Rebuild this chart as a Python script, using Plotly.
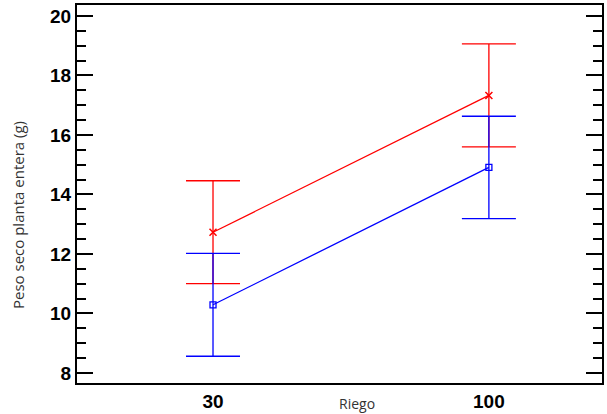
import plotly.graph_objects as go

categories = ["30", "100"]
x_pos = [0, 1]
red_mean = [12.73, 17.33]
red_err = [1.73, 1.73]
blue_mean = [10.29, 14.91]
blue_err = [1.73, 1.72]

W, H = 607, 414
l, r, t, b = 77, 5, 5, 31
pw, ph = W - l - r, H - t - b

fig = go.Figure()
fig.add_trace(go.Scatter(
    x=x_pos, y=red_mean, mode="lines+markers",
    line=dict(color="#ff0000", width=1.3),
    marker=dict(symbol="x-thin", size=7, color="#ff0000", line=dict(color="#ff0000", width=1.5)),
    error_y=dict(type="data", array=red_err, color="#ff0000", thickness=1.3, width=27),
    showlegend=False))
fig.add_trace(go.Scatter(
    x=x_pos, y=blue_mean, mode="lines+markers",
    line=dict(color="#0000ff", width=1.3),
    marker=dict(symbol="square-open", size=6, color="#0000ff", line=dict(width=1.3)),
    error_y=dict(type="data", array=blue_err, color="#0000ff", thickness=1.3, width=27),
    showlegend=False))

fig.update_layout(
    template="none",
    width=W, height=H,
    margin=dict(l=l, r=r, t=t, b=b, pad=0),
    plot_bgcolor="white", paper_bgcolor="white",
    font=dict(family="Liberation Sans, Arial", color="black"),
    xaxis=dict(range=[-0.493, 1.41], tickvals=x_pos, ticktext=categories,
               ticks="", showgrid=False, zeroline=False, automargin=False,
               showline=True, linecolor="black", linewidth=2, mirror=True,
               tickfont=dict(size=19, family="Liberation Sans", weight="bold")),
    yaxis=dict(range=[7.66, 20.37], tickvals=[8, 10, 12, 14, 16, 18, 20],
               ticks="inside", ticklen=16, tickwidth=2, tickcolor="black",
               minor=dict(dtick=0.5, ticks="inside", ticklen=9, tickwidth=2, tickcolor="black"),
               showgrid=False, zeroline=False, automargin=False,
               showline=True, linecolor="black", linewidth=2, mirror="allticks",
               tickfont=dict(size=19, family="Liberation Sans", weight="bold")),
    annotations=[
        dict(text="Peso seco planta entera (g)", xref="paper", yref="paper",
             x=(18 - l) / pw, y=(H - b - 215) / ph, xanchor="center", yanchor="middle",
             showarrow=False, textangle=-90, font=dict(size=15, family="Open Sans", color="#333")),
        dict(text="Riego", xref="paper", yref="paper",
             x=(357 - l) / pw, y=(H - b - 403) / ph, xanchor="center", yanchor="middle",
             showarrow=False, font=dict(size=14, family="Open Sans", color="#333")),
    ],
)
fig.write_html("out.html", config={"displayModeBar": False},
               post_script="document.body.style.margin='0';")
